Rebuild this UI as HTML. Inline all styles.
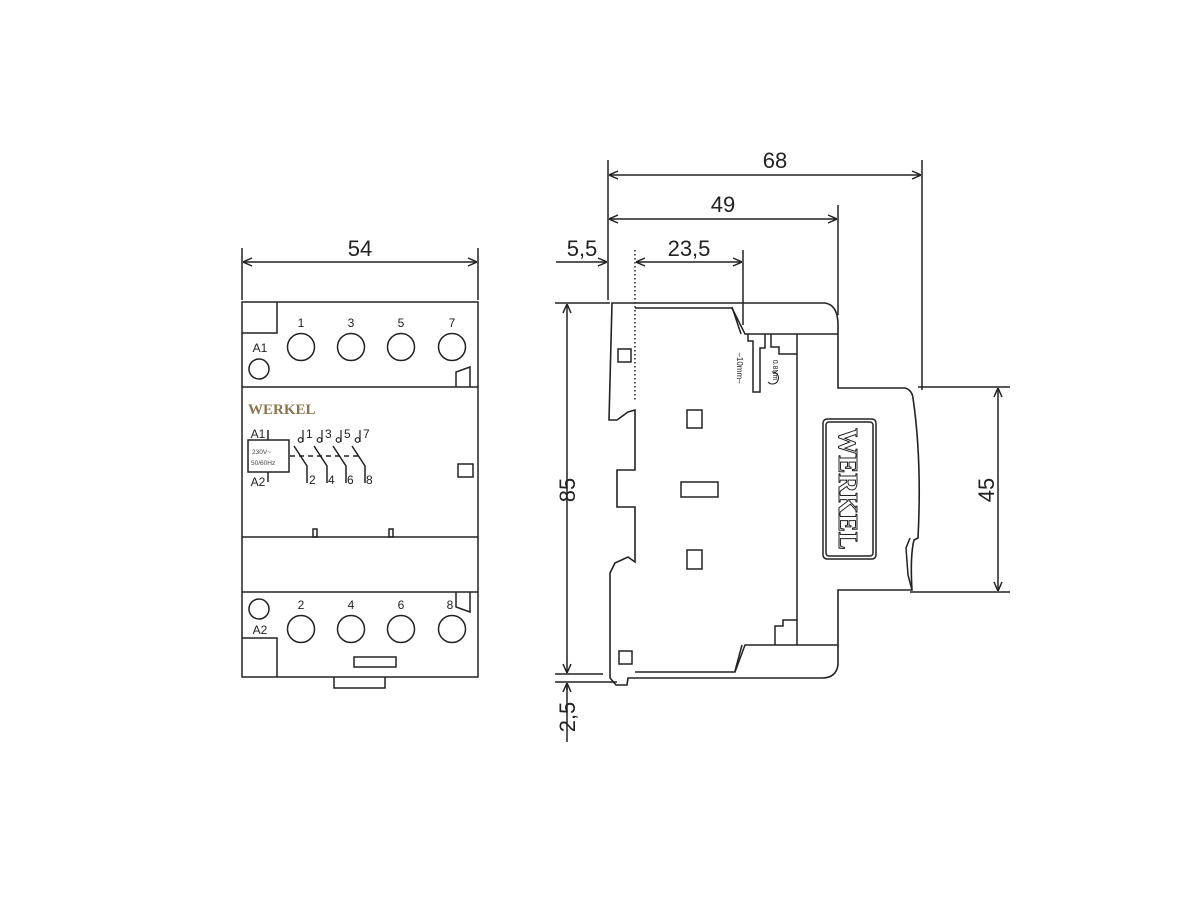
<!DOCTYPE html>
<html><head><meta charset="utf-8"><style>
html,body{margin:0;padding:0;background:#fff}
svg{display:block}
text{font-family:"Liberation Sans",sans-serif}
</style></head><body>
<svg width="1200" height="900" viewBox="0 0 1200 900" xmlns="http://www.w3.org/2000/svg">
<defs>
<marker id="a" viewBox="0 0 10 10" refX="10" refY="5" markerWidth="10" markerHeight="10" orient="auto-start-reverse" markerUnits="userSpaceOnUse">
<path d="M1,1 L10,5 L1,9" fill="none" stroke="#222" stroke-width="1.5"/></marker>
</defs>
<g fill="none" stroke="#222" stroke-width="1.5">
<!-- FRONT VIEW -->
<rect x="242" y="302" width="236" height="375"/>
<line x1="242" y1="387" x2="478" y2="387"/>
<line x1="242" y1="537" x2="478" y2="537"/>
<line x1="242" y1="592" x2="478" y2="592"/>
<path d="M242,333 H277 V302"/>
<path d="M242,638 H277 V677"/>
<circle cx="301" cy="347" r="13.5"/><circle cx="351" cy="347" r="13.5"/><circle cx="401" cy="347" r="13.5"/><circle cx="452" cy="347" r="13.5"/>
<circle cx="301" cy="629" r="13.5"/><circle cx="351" cy="629" r="13.5"/><circle cx="401" cy="629" r="13.5"/><circle cx="452" cy="629" r="13.5"/>
<circle cx="259" cy="369" r="10"/><circle cx="259" cy="609" r="10"/>
<path d="M456,387 V372 L470,367 V387"/>
<path d="M470,592 V612 L456,607 V592"/>
<rect x="354" y="657" width="42" height="10"/>
<path d="M334,677 V688 H385 V677"/>
<rect x="458" y="464" width="15" height="13"/>
<rect x="313" y="529" width="4" height="8"/><rect x="389" y="529" width="4" height="8"/>
<rect x="248" y="440" width="41" height="32"/>
<line x1="268" y1="430" x2="268" y2="440"/><line x1="268" y1="472" x2="268" y2="482"/>
<line x1="290" y1="456" x2="361" y2="456" stroke-dasharray="5,4"/>
<path d="M294,446 L307,466 V483"/><path d="M314,446 L327,466 V483"/><path d="M333,446 L346,466 V483"/><path d="M352,446 L365,466 V483"/>
<g stroke-width="1.2">
<path d="M303,430 V442"/><circle cx="300.5" cy="440" r="2.3"/>
<path d="M322,430 V442"/><circle cx="319.5" cy="440" r="2.3"/>
<path d="M341,430 V442"/><circle cx="338.5" cy="440" r="2.3"/>
<path d="M360,430 V442"/><circle cx="357.5" cy="440" r="2.3"/>
</g>
<!-- dims front -->
<line x1="242" y1="248" x2="242" y2="300"/><line x1="478" y1="248" x2="478" y2="300"/>
<line x1="243" y1="262" x2="477" y2="262" marker-start="url(#a)" marker-end="url(#a)"/>

<!-- SIDE VIEW -->
<path d="M612,303 H825 Q838,305 838,325 V388 H905 Q912,390 913,398 Q922,460 918,538 L914,540 Q910,556 912,590 H838 V665 Q836,678 822,678 H628 L627,685 H616 L610,678 V573 L615,563 L628,557 L635,562 V507 H617 V470 H635 V410 L628,412 L617,420 L609,420 Z" stroke-width="1.6"/>
<path d="M912,590 L908,575 L906,548 L910,538"/>
<path d="M635,308 H732 L745,334 H838"/>
<path d="M635,672 H735 L745,645 H838"/>
<path d="M732,307 L741,334"/><path d="M735,671 L742,645"/>
<line x1="797" y1="334" x2="797" y2="645"/>
<path d="M748,334 V341 H753 V392 H760 V348 H765 V334"/>
<path d="M771,334 V347 H779 V354 H797"/>
<path d="M775,645 V626 H783 V620 H797"/>
<line x1="635" y1="250" x2="635" y2="402" stroke-dasharray="1.5,2.5"/>
<rect x="618" y="349" width="13" height="13"/>
<rect x="619" y="651" width="13" height="13"/>
<rect x="687" y="410" width="15" height="18"/>
<rect x="681" y="482" width="37" height="15"/>
<rect x="687" y="550" width="15" height="19"/>
<rect x="823" y="419" width="53" height="140" rx="4"/>
<rect x="826" y="422" width="47" height="134" rx="3"/>
<path d="M768,382 a6,6 0 1,0 4,-10" stroke-width="1.1"/>
<!-- dims side -->
<line x1="608" y1="160" x2="608" y2="300"/>
<line x1="922" y1="160" x2="922" y2="390"/>
<line x1="838" y1="205" x2="838" y2="315"/>
<line x1="743" y1="250" x2="743" y2="325"/>
<line x1="609" y1="175" x2="921" y2="175" marker-start="url(#a)" marker-end="url(#a)"/>
<line x1="609" y1="219" x2="837" y2="219" marker-start="url(#a)" marker-end="url(#a)"/>
<line x1="636" y1="262" x2="742" y2="262" marker-start="url(#a)" marker-end="url(#a)"/>
<line x1="556" y1="262" x2="607" y2="262" marker-end="url(#a)"/>
<line x1="555" y1="303" x2="610" y2="303"/>
<line x1="555" y1="674" x2="603" y2="674"/>
<line x1="555" y1="682" x2="617" y2="682"/>
<line x1="567" y1="304" x2="567" y2="673" marker-start="url(#a)" marker-end="url(#a)"/>
<line x1="567" y1="690" x2="567" y2="683" marker-end="url(#a)"/>
<line x1="567" y1="683" x2="567" y2="742"/>
<line x1="918" y1="387" x2="1010" y2="387"/>
<line x1="910" y1="592" x2="1010" y2="592"/>
<line x1="998" y1="388" x2="998" y2="591" marker-start="url(#a)" marker-end="url(#a)"/>
</g>
<g fill="#222" font-size="22">
<text x="360" y="256" text-anchor="middle">54</text>
<text x="775" y="168" text-anchor="middle">68</text>
<text x="723" y="212" text-anchor="middle">49</text>
<text x="689" y="256" text-anchor="middle">23,5</text>
<text x="582" y="256" text-anchor="middle">5,5</text>
<text transform="translate(575,490) rotate(-90)" text-anchor="middle">85</text>
<text transform="translate(575,717) rotate(-90)" text-anchor="middle">2,5</text>
<text transform="translate(994,490) rotate(-90)" text-anchor="middle">45</text>
</g>
<g fill="#222" font-size="12" text-anchor="middle">
<text x="301" y="327">1</text><text x="351" y="327">3</text><text x="401" y="327">5</text><text x="452" y="327">7</text>
<text x="301" y="609">2</text><text x="351" y="609">4</text><text x="401" y="609">6</text><text x="450" y="609">8</text>
<text x="260" y="352">A1</text><text x="260" y="634">A2</text>
<text x="258" y="438">A1</text><text x="258" y="486">A2</text>
<text x="306" y="438" text-anchor="start">1</text><text x="325" y="438" text-anchor="start">3</text><text x="344" y="438" text-anchor="start">5</text><text x="363" y="438" text-anchor="start">7</text>
<text x="309" y="484" text-anchor="start">2</text><text x="328" y="484" text-anchor="start">4</text><text x="347" y="484" text-anchor="start">6</text><text x="366" y="484" text-anchor="start">8</text>
</g>
<text x="252" y="454" font-size="6.5" fill="#444">230V~</text>
<text x="251" y="465" font-size="6.5" fill="#444">50/60Hz</text>
<text x="248" y="414" font-size="15" font-weight="bold" fill="#8a7550" style="font-family:'Liberation Serif',serif">WERKEL</text>
<text transform="translate(737,368) rotate(90)" font-size="8" fill="#222" text-anchor="middle">–10mm–</text>
<text transform="translate(773,370) rotate(90)" font-size="7" fill="#222" text-anchor="middle">0.8Nm</text>
<text transform="translate(839,489) rotate(90)" font-size="27" font-weight="bold" fill="#fff" stroke="#222" stroke-width="1" text-anchor="middle" style="font-family:'Liberation Serif',serif">WERKEL</text>
</svg>
</body></html>
